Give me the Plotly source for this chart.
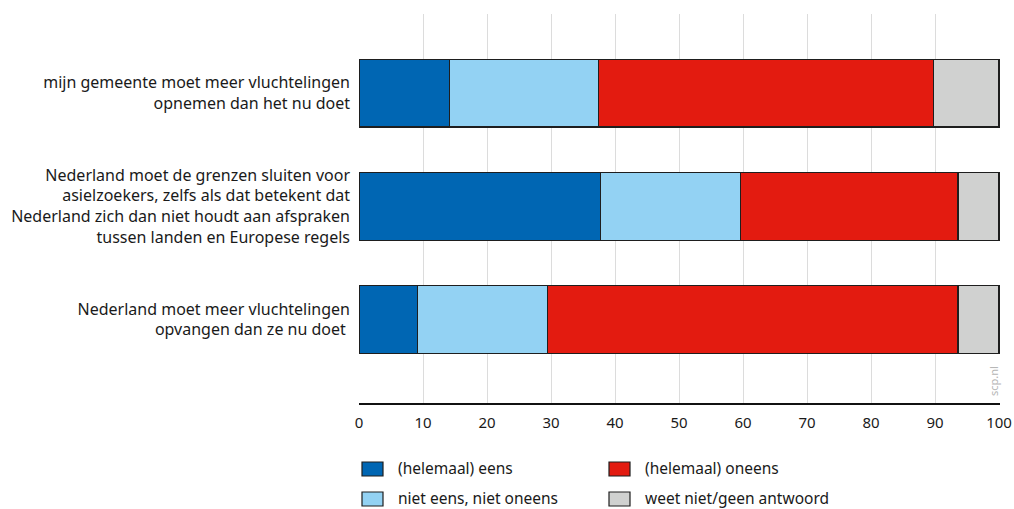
import plotly.graph_objects as go

statements = [
    "mijn gemeente moet meer vluchtelingen<br>opnemen dan het nu doet",
    "Nederland moet de grenzen sluiten voor<br>asielzoekers, zelfs als dat betekent dat<br>Nederland zich dan niet houdt aan afspraken<br>tussen landen en Europese regels",
    "Nederland moet meer vluchtelingen<br>opvangen dan ze nu doet ",
]
series_names = ["(helemaal) eens", "niet eens, niet oneens", "(helemaal) oneens", "weet niet/geen antwoord"]
eens = [14.2, 37.7, 9.2]
neutraal = [23.2, 21.9, 20.3]
oneens = [52.3, 34.0, 64.1]
weet_niet = [10.3, 6.4, 6.4]
x_ticks = [0, 10, 20, 30, 40, 50, 60, 70, 80, 90, 100]

colors = ["#0066b3", "#93d2f3", "#e31b10", "#d0d1d0"]
values = [eens, neutraal, oneens, weet_niet]

FONT = "Noto Sans"
W, H = 1014, 509
ML, MR, MT, MB = 359, 14, 14, 106
PW, PH = W - ML - MR, H - MT - MB
ypos = list(range(len(statements)))

fig = go.Figure()
for name, vals, col in zip(series_names, values, colors):
    fig.add_trace(go.Bar(
        y=ypos, x=vals, name=name, orientation="h",
        marker=dict(color=col, line=dict(color="#1e1e1e", width=1.2)),
        width=0.6, hoverinfo="x+name", showlegend=False,
    ))

fig.update_layout(
    barmode="stack",
    width=W, height=H,
    margin=dict(l=ML, r=MR, t=MT, b=MB, autoexpand=False),
    paper_bgcolor="white", plot_bgcolor="white",
    font=dict(family=FONT, size=16, color="#1a1a1a"),
    showlegend=False,
    xaxis=dict(
        range=[0, 100.15], tickvals=x_ticks, ticktext=[str(v) for v in x_ticks],
        showgrid=True, gridcolor="#dcdcdc", gridwidth=1,
        showline=True, linecolor="#111111", linewidth=2,
        zeroline=False, ticks="", tickfont=dict(size=15), ticklabelstandoff=5,
        automargin=False,
    ),
    yaxis=dict(
        range=[2.74, -0.70], tickvals=ypos, ticktext=statements,
        showgrid=False, showline=False, zeroline=False, ticks="",
        ticklabelstandoff=8, tickfont=dict(size=16), automargin=False,
    ),
)

# legend drawn as swatches + labels below the plot (2 columns x 2 rows)
def px_x(px):
    return (px - ML) / PW

def px_y(py):
    return (H - MB - py) / PH

legend_layout = [
    (0, 362, 462),  # eens
    (1, 362, 492),  # niet eens, niet oneens
    (2, 609, 462),  # oneens
    (3, 609, 492),  # weet niet
]
for idx, sx, sy in legend_layout:
    fig.add_shape(
        type="rect", xref="paper", yref="paper",
        x0=px_x(sx), x1=px_x(sx + 21), y0=px_y(sy), y1=px_y(sy + 14),
        fillcolor=colors[idx], line=dict(color="#1e1e1e", width=1.2),
    )
    fig.add_annotation(
        text=series_names[idx], xref="paper", yref="paper",
        x=px_x(sx + 35), y=px_y(sy + 6), xanchor="left", yanchor="middle",
        showarrow=False, borderpad=0,
        font=dict(family=FONT, size=15.5, color="#1a1a1a"),
    )

fig.add_annotation(
    text="scp.nl", xref="paper", yref="paper", x=px_x(993), y=px_y(398),
    xanchor="center", yanchor="bottom", textangle=-90, showarrow=False,
    font=dict(family=FONT, size=11, color="#b5b5b5"),
)

fig.write_html(
    "out.html",
    config={"displayModeBar": False},
    post_script="document.body.style.margin='0';document.body.style.overflow='hidden';",
)
